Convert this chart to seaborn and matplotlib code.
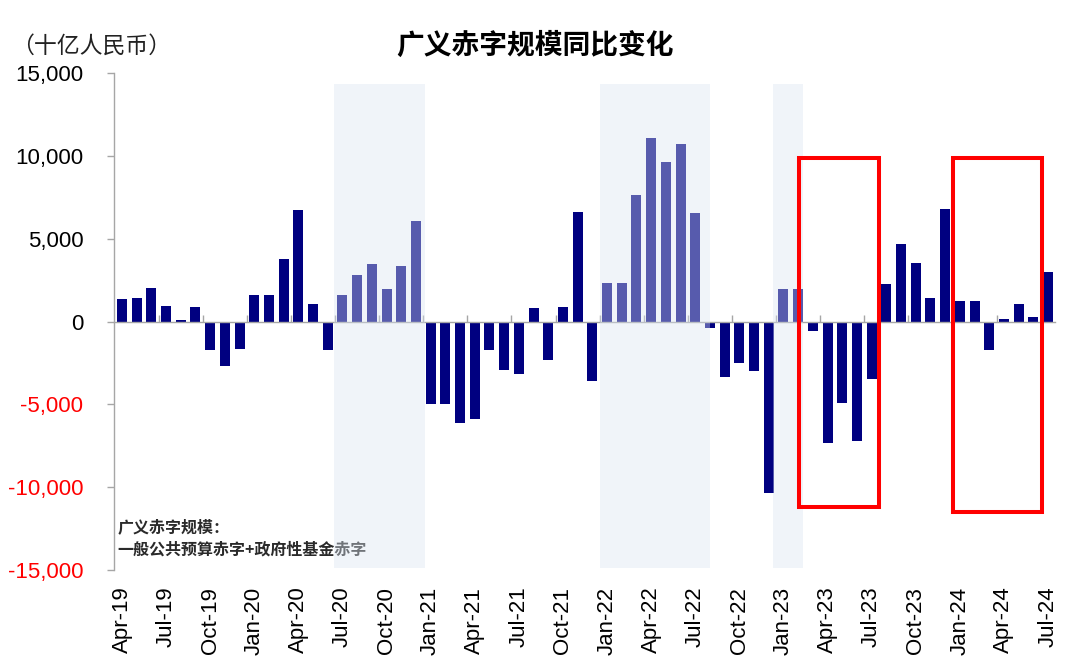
import numpy as np
import pandas as pd
import matplotlib
matplotlib.use("Agg")
import matplotlib.pyplot as plt
import seaborn as sns
from matplotlib.patches import Rectangle

# ---------------- data ----------------
months = list(pd.date_range("2019-04-01", periods=64, freq="MS").strftime("%b-%y"))
deficit_yoy = [1350, 1390, 2040, 950, 100, 870, -1710, -2660, -1630, 1630,
               1630, 3790, 6740, 1050, -1690, 1610, 2800, 3450, 1960, 3330,
               6070, -4980, -4980, -6150, -5910, -1740, -2950, -3170, 810, -2340,
               870, 6620, -3590, 2340, 2340, 7660, 11070, 9600, 10710, 6560,
               -400, -3370, -2500, -2990, -10330, 1960, 1960, -550, -7360, -4900,
               -7220, -3490, 2280, 4680, 3530, 1390, 6780, 1210, 1210, -1740,
               160, 1030, 280, 3010]
ytick_values = [15000, 10000, 5000, 0, -5000, -10000, -15000]
label_months = months[::3]

shade_start = ["Jul-20", "Jan-22", "Jan-23"]
shade_end = ["Dec-20", "Jul-22", "Feb-23"]
box_start = ["Mar-23", "Jan-24"]
box_end = ["Jul-23", "Jun-24"]
box_top = [9850, 9900]
box_bottom = [-11200, -11500]

title = "广义赤字规模同比变化"
unit = "（十亿人民币）"
note_lines = ["广义赤字规模：", "一般公共预算赤字+政府性基金赤字"]

# ---------------- style ----------------
sns.set_theme(style="ticks")
plt.rcParams["font.family"] = ["Liberation Sans", "Noto Sans CJK SC", "DejaVu Sans"]
cjk = ["Noto Sans CJK SC", "DejaVu Sans"]
grey = "#A6A6A6"

fig = plt.figure(figsize=(10.8, 6.68), dpi=100)
ax = fig.add_axes([0.1056, 0.1467, 0.8713, 0.7440])

df = pd.DataFrame({"month": months, "value": deficit_yoy})
sns.barplot(data=df, x="month", y="value", order=months, color="#000080",
            saturation=1, width=0.68, errorbar=None, linewidth=0, ax=ax, zorder=2)

idx = {m: i for i, m in enumerate(months)}

# shaded periods (semi-transparent overlay, lightens bars beneath)
shade_pads = [(0.6, 0.6), (0.48, 1.0), (0.71, 0.3)]
for s, e, (pl, pr) in zip(shade_start, shade_end, shade_pads):
    ax.axvspan(idx[s] - pl, idx[e] + pr, ymin=0.005, ymax=0.978,
               facecolor="#DAE4F2", alpha=0.4, lw=0, zorder=3)

# red highlight boxes
box_pads = [(0.94, 0.5), (0.46, 0.6)]
for s, e, t, b, (pl, pr) in zip(box_start, box_end, box_top, box_bottom, box_pads):
    x0 = idx[s] - pl
    x1 = idx[e] + pr
    ax.add_patch(Rectangle((x0, b), x1 - x0, t - b, fill=False,
                           edgecolor="#FF0000", lw=2.9, zorder=5, clip_on=False))

ax.set_xlim(-0.54, 63.48)
ax.set_ylim(-15000, 15000)
ax.set_xlabel("")
ax.set_ylabel("")

for sp in ["top", "right"]:
    ax.spines[sp].set_visible(False)
ax.spines["left"].set_color(grey)
ax.spines["left"].set_linewidth(1.0)
ax.spines["bottom"].set_position(("data", 0))
ax.spines["bottom"].set_color(grey)
ax.spines["bottom"].set_linewidth(1.0)

# small ticks on the zero line
ax.set_xticks([i + 2.5 for i in range(0, 61, 3)])
ax.set_xticklabels([])
ax.tick_params(axis="x", bottom=True, direction="in", length=5, width=1,
               color=grey, labelbottom=False)

# y axis
ax.set_yticks(ytick_values)
ax.set_yticklabels([f"{v:,}" for v in ytick_values])
ax.tick_params(axis="y", left=True, direction="out", length=5, width=1,
               color=grey, pad=17, labelsize=16)
for lab, v in zip(ax.get_yticklabels(), ytick_values):
    lab.set_color("#FF0000" if v < 0 else "#000000")

# month labels on a bottom secondary axis
sec = ax.secondary_xaxis("bottom")
sec.set_xticks([idx[m] for m in label_months])
sec.set_xticklabels(label_months)
sec.tick_params(axis="x", length=0, pad=12, labelsize=16, labelrotation=90,
                labelcolor="#000000")
sec.spines["bottom"].set_visible(False)

# texts
fig.text(0.495, 0.931, title, ha="center", va="center", fontsize=20,
         fontweight="bold", family=cjk, color="#000000")
fig.text(0.010, 0.931, unit, ha="left", va="center", fontsize=16.5,
         family=cjk, color="#222222")
ax.text(0.004, 0.0865, note_lines[0], transform=ax.transAxes, ha="left",
        va="center", fontsize=11.5, fontweight="bold", family=cjk,
        color="#2a2a2a", zorder=2.8)
ax.text(0.004, 0.042, note_lines[1], transform=ax.transAxes, ha="left",
        va="center", fontsize=11.5, fontweight="bold", family=cjk,
        color="#2a2a2a", zorder=2.8)

fig.savefig("out.png", dpi=100)
